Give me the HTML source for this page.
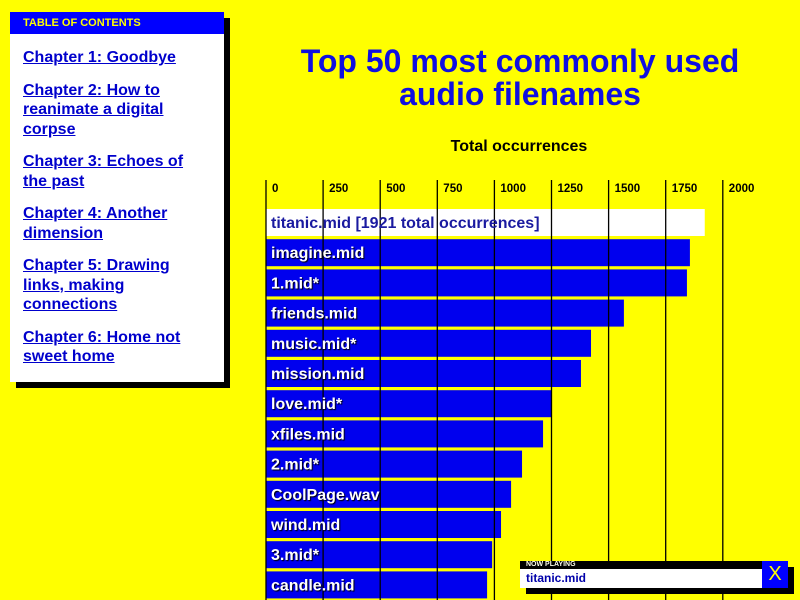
<!DOCTYPE html>
<html><head><meta charset="utf-8"><style>
body{margin:0;width:800px;height:600px;overflow:hidden;background:#ffff00;font-family:"Liberation Sans",sans-serif;position:relative}
#toc{position:absolute;left:10px;top:12px;width:214px;height:370px;background:#fff;box-shadow:6px 6px 0 #000}
#toc .hd{background:#0000ff;color:#ffff00;font-weight:bold;font-size:11px;height:22px;line-height:22px;padding-left:13px}
#toc a{display:block;color:#0000cc;font-weight:bold;font-size:16px;line-height:19.5px;margin:13px 0 0 13px;width:178px;text-decoration:underline}
#title{position:absolute;left:260px;width:520px;top:45px;text-align:center;color:#1010e0;font-weight:bold;font-size:32px;line-height:33px}
#np{position:absolute;left:520px;top:561px;width:268px;height:27px;box-shadow:6px 6px 0 #000}
</style></head><body>
<div id="toc">
<div class="hd">TABLE OF CONTENTS</div>
<a style="margin-top:14px">Chapter 1: Goodbye</a>
<a>Chapter 2: How to reanimate a digital corpse</a>
<a>Chapter 3: Echoes of the past</a>
<a>Chapter 4: Another dimension</a>
<a>Chapter 5: Drawing links, making connections</a>
<a>Chapter 6: Home not sweet home</a>
</div>
<div id="title">Top 50 most commonly used<br>audio filenames</div>
<svg id="chart" width="800" height="600" style="position:absolute;left:0;top:0">
<text x="519" y="151" text-anchor="middle" font-size="16" font-weight="bold" fill="#000">Total occurrences</text>
<g id="bars"></g><g id="grid"></g><g id="labels"></g>
</svg>
<div id="np">
<div style="position:absolute;left:0;top:0;width:242px;height:8px;background:#000;color:#ffe;font-size:7px;font-weight:bold;line-height:8px;padding-left:6px;box-sizing:border-box">NOW PLAYING</div>
<div style="position:absolute;left:0;top:8px;width:242px;height:19px;background:#fff;color:#0000aa;font-weight:bold;font-size:12px;line-height:19px;padding-left:6px;box-sizing:border-box">titanic.mid</div>
<div style="position:absolute;left:242px;top:0;width:26px;height:27px;background:#0000ff;color:#ffff00;font-size:20px;line-height:27px;text-align:center">X</div>
</div>
<script>
const categories=["titanic.mid","imagine.mid","1.mid*","friends.mid","music.mid*","mission.mid","love.mid*","xfiles.mid","2.mid*","CoolPage.wav","wind.mid","3.mid*","candle.mid"];
const values=[1921,1856,1843,1567,1423,1379,1252,1213,1121,1073,1029,990,968];
const ticks=[0,250,500,750,1000,1250,1500,1750,2000];
const NS="http://www.w3.org/2000/svg";
const x=v=>266+v*0.2284;
const y=i=>209+i*30.2;
const bars=document.getElementById('bars'),grid=document.getElementById('grid'),labels=document.getElementById('labels');
function mk(tag,a,p){const e=document.createElementNS(NS,tag);for(const k in a)e.setAttribute(k,a[k]);p.appendChild(e);return e;}
categories.forEach((c,i)=>{
  const hi=i===0;
  const r=mk('rect',{x:x(0),y:y(i),width:x(values[i])-x(0),height:27,fill:hi?'#fff':'#0000ee'},bars);
  
  
  const t=mk('text',{x:x(0)+5,y:y(i)+19,'font-size':16,'font-weight':'bold',fill:hi?'#1a1aa0':'#fff',style:hi?'':'text-shadow:1px 1px 1px #000'},labels);
  t.textContent=hi?c+' ['+values[i]+' total occurrences]':c;
  
  
});
ticks.forEach(v=>{
  const l=mk('line',{x1:x(v),x2:x(v),y1:180,y2:600,stroke:'#000','stroke-width':1.3},grid);
  
  
  const t=mk('text',{x:x(v)+6,y:192,'font-size':11.5,'font-weight':'bold',fill:'#000'},labels);
  t.textContent=v;
  
  
});
</script>
</body></html>
